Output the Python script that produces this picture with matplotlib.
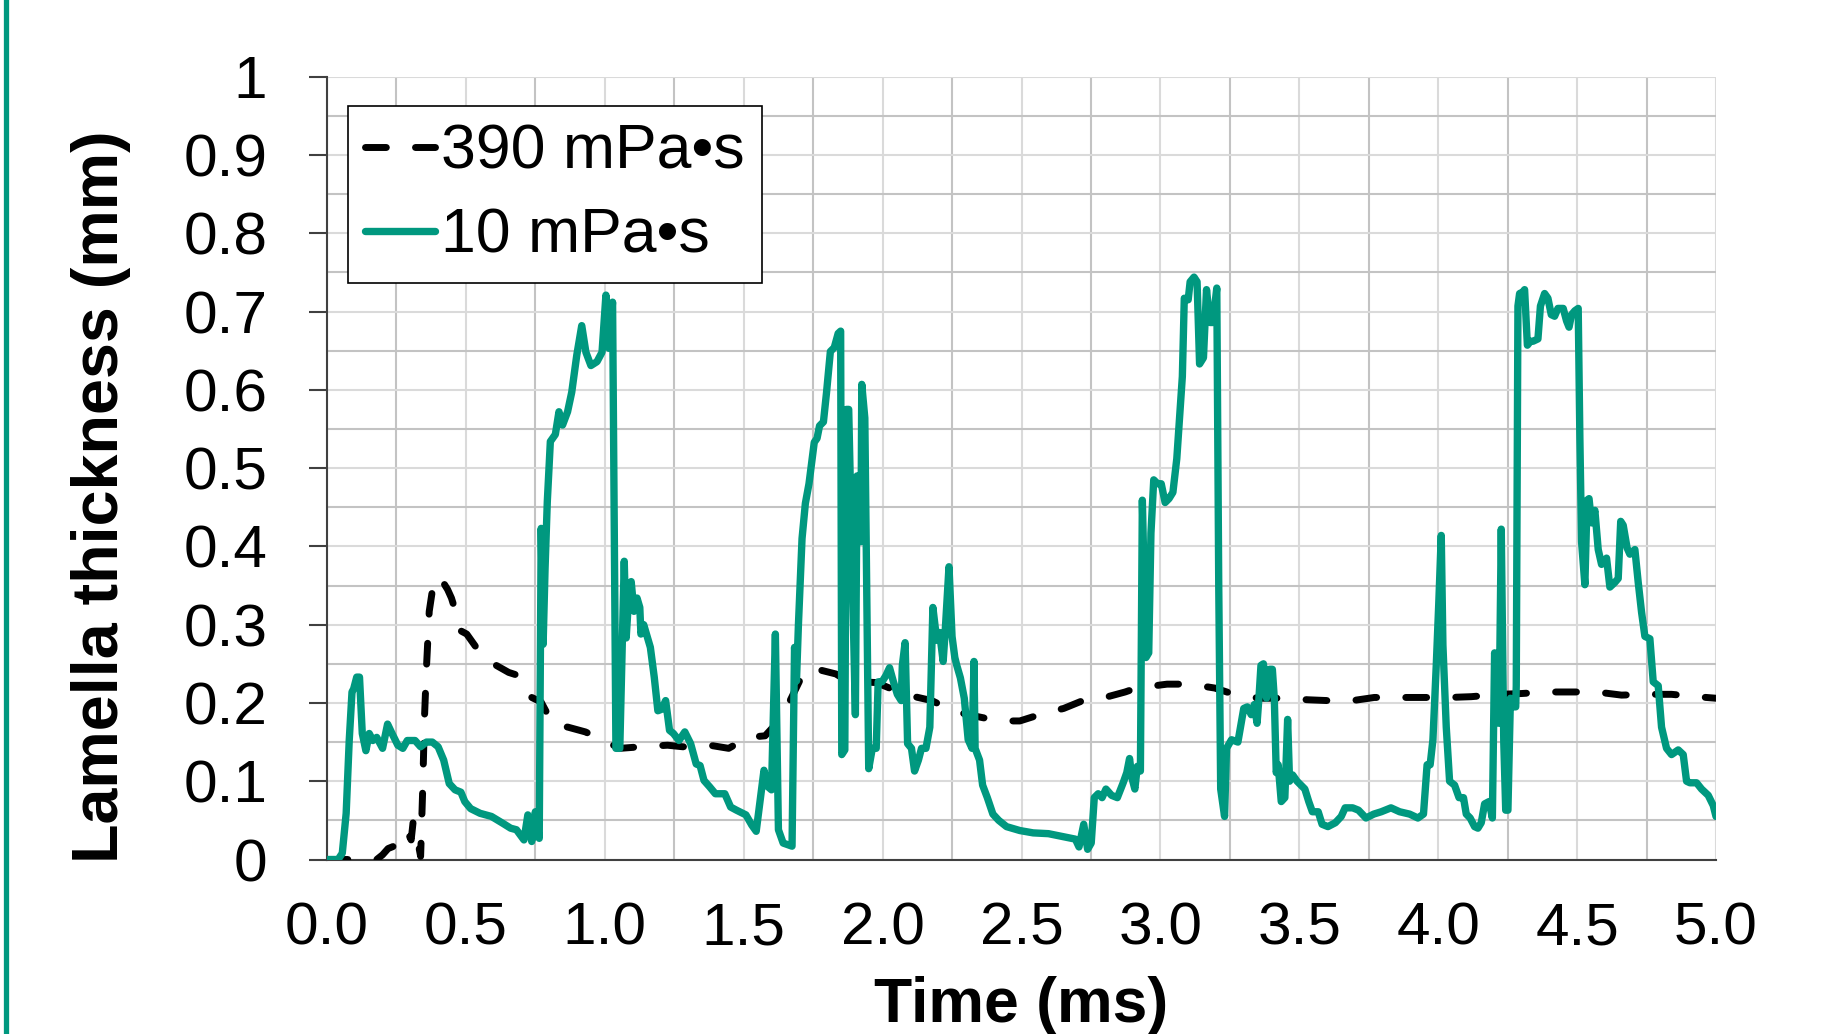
import matplotlib
matplotlib.use("Agg")
import matplotlib.pyplot as plt
from matplotlib.lines import Line2D
from matplotlib.ticker import MultipleLocator, FixedLocator

# ---------------- data ----------------
t_390 = [0.000, 0.179, 0.200, 0.220, 0.255, 0.275, 0.289, 0.303, 0.310, 0.320, 0.328, 0.337,
         0.344, 0.351, 0.358, 0.368, 0.379, 0.397, 0.413, 0.420, 0.434, 0.448, 0.461, 0.482,
         0.503, 0.551, 0.579, 0.599, 0.654, 0.689, 0.737, 0.771, 0.813, 0.868, 0.930, 0.985,
         1.054, 1.130, 1.226, 1.281, 1.377, 1.446, 1.515, 1.577, 1.639, 1.667, 1.708, 1.742,
         1.832, 1.873, 1.977, 2.032, 2.115, 2.177, 2.253, 2.308, 2.418, 2.494, 2.583, 2.652,
         2.721, 2.790, 2.873, 2.914, 3.024, 3.107, 3.196, 3.265, 3.355, 3.437, 3.534, 3.603,
         3.692, 3.770, 3.861, 3.951, 4.041, 4.119, 4.221, 4.299, 4.389, 4.480, 4.570, 4.660,
         4.750, 4.840, 4.930, 5.000]
h_390 = [0.000, 0.000, 0.006, 0.014, 0.019, 0.021, 0.036, 0.025, 0.048, 0.044, 0.021, 0.004,
         0.084, 0.182, 0.245, 0.317, 0.343, 0.351, 0.362, 0.353, 0.345, 0.334, 0.319, 0.292,
         0.288, 0.264, 0.258, 0.250, 0.239, 0.235, 0.207, 0.201, 0.173, 0.169, 0.163, 0.154,
         0.142, 0.144, 0.146, 0.144, 0.146, 0.142, 0.156, 0.158, 0.182, 0.203, 0.233, 0.245,
         0.237, 0.228, 0.226, 0.218, 0.208, 0.203, 0.190, 0.185, 0.177, 0.177, 0.187, 0.193,
         0.203, 0.206, 0.214, 0.219, 0.224, 0.224, 0.219, 0.211, 0.206, 0.206, 0.204, 0.203,
         0.203, 0.207, 0.207, 0.207, 0.207, 0.208, 0.211, 0.212, 0.214, 0.214, 0.214, 0.210,
         0.211, 0.211, 0.208, 0.206]

t_10 = [0.000, 0.040, 0.055, 0.069, 0.080, 0.090, 0.096, 0.107, 0.117, 0.127, 0.140, 0.152,
        0.165, 0.179, 0.200, 0.218, 0.234, 0.255, 0.273, 0.289, 0.317, 0.337, 0.358, 0.379,
        0.400, 0.420, 0.440, 0.461, 0.482, 0.496, 0.517, 0.551, 0.592, 0.634, 0.661, 0.682,
        0.709, 0.723, 0.737, 0.750, 0.764, 0.771, 0.778, 0.785, 0.793, 0.804, 0.822, 0.835,
        0.848, 0.866, 0.881, 0.899, 0.917, 0.932, 0.950, 0.972, 0.990, 1.004, 1.015, 1.028,
        1.040, 1.054, 1.070, 1.077, 1.085, 1.095, 1.105, 1.116, 1.126, 1.130, 1.140, 1.150,
        1.164, 1.178, 1.191, 1.205, 1.219, 1.233, 1.247, 1.267, 1.288, 1.309, 1.329, 1.343,
        1.357, 1.377, 1.398, 1.432, 1.453, 1.474, 1.508, 1.529, 1.545, 1.556, 1.573, 1.587,
        1.600, 1.614, 1.625, 1.642, 1.674, 1.683, 1.690, 1.697, 1.710, 1.722, 1.735, 1.754,
        1.764, 1.773, 1.787, 1.798, 1.812, 1.826, 1.840, 1.849, 1.853, 1.864, 1.870, 1.878,
        1.902, 1.908, 1.922, 1.925, 1.936, 1.950, 1.963, 1.977, 1.984, 1.998, 2.012, 2.025,
        2.039, 2.053, 2.067, 2.071, 2.081, 2.090, 2.104, 2.115, 2.129, 2.140, 2.156, 2.170,
        2.181, 2.195, 2.205, 2.218, 2.225, 2.239, 2.250, 2.260, 2.267, 2.280, 2.294, 2.308,
        2.322, 2.329, 2.333, 2.349, 2.360, 2.377, 2.397, 2.418, 2.446, 2.494, 2.542, 2.597,
        2.652, 2.694, 2.707, 2.724, 2.738, 2.751, 2.762, 2.776, 2.790, 2.804, 2.824, 2.845,
        2.866, 2.879, 2.889, 2.897, 2.908, 2.917, 2.928, 2.935, 2.948, 2.958, 2.966, 2.976,
        2.990, 3.003, 3.017, 3.031, 3.045, 3.059, 3.072, 3.079, 3.086, 3.100, 3.107, 3.121,
        3.132, 3.141, 3.155, 3.166, 3.178, 3.189, 3.203, 3.210, 3.217, 3.231, 3.238, 3.256,
        3.279, 3.300, 3.313, 3.327, 3.338, 3.348, 3.355, 3.362, 3.371, 3.382, 3.393, 3.403,
        3.410, 3.417, 3.424, 3.435, 3.448, 3.458, 3.465, 3.476, 3.492, 3.506, 3.520, 3.534,
        3.547, 3.568, 3.582, 3.603, 3.630, 3.651, 3.665, 3.692, 3.713, 3.740, 3.768, 3.795,
        3.830, 3.861, 3.897, 3.927, 3.947, 3.960, 3.971, 3.981, 3.993, 4.002, 4.011, 4.017,
        4.029, 4.041, 4.059, 4.075, 4.091, 4.101, 4.115, 4.131, 4.143, 4.155, 4.167, 4.183,
        4.195, 4.203, 4.219, 4.227, 4.236, 4.243, 4.251, 4.260, 4.269, 4.279, 4.281, 4.287,
        4.293, 4.305, 4.311, 4.321, 4.332, 4.341, 4.359, 4.368, 4.383, 4.395, 4.407, 4.419,
        4.431, 4.450, 4.462, 4.471, 4.480, 4.492, 4.504, 4.510, 4.516, 4.528, 4.536, 4.543,
        4.552, 4.564, 4.576, 4.588, 4.606, 4.618, 4.636, 4.648, 4.657, 4.666, 4.680, 4.690,
        4.708, 4.720, 4.732, 4.744, 4.762, 4.774, 4.792, 4.804, 4.822, 4.840, 4.864, 4.882,
        4.894, 4.906, 4.930, 4.948, 4.972, 4.990, 5.000]
h_10 = [0.000, 0.000, 0.008, 0.059, 0.152, 0.214, 0.218, 0.233, 0.233, 0.161, 0.139, 0.161,
        0.152, 0.156, 0.142, 0.173, 0.161, 0.146, 0.142, 0.152, 0.152, 0.144, 0.150, 0.150,
        0.144, 0.127, 0.097, 0.089, 0.086, 0.074, 0.065, 0.059, 0.055, 0.046, 0.040, 0.038,
        0.025, 0.057, 0.023, 0.061, 0.027, 0.423, 0.275, 0.372, 0.457, 0.534, 0.543, 0.572,
        0.555, 0.572, 0.597, 0.644, 0.682, 0.648, 0.631, 0.636, 0.648, 0.721, 0.653, 0.712,
        0.142, 0.142, 0.381, 0.283, 0.330, 0.355, 0.317, 0.334, 0.322, 0.288, 0.300, 0.288,
        0.271, 0.233, 0.190, 0.192, 0.203, 0.165, 0.161, 0.152, 0.163, 0.148, 0.122, 0.120,
        0.101, 0.093, 0.084, 0.084, 0.067, 0.063, 0.057, 0.044, 0.036, 0.067, 0.114, 0.093,
        0.089, 0.288, 0.038, 0.021, 0.017, 0.271, 0.228, 0.300, 0.410, 0.455, 0.480, 0.533,
        0.538, 0.554, 0.559, 0.596, 0.649, 0.654, 0.672, 0.675, 0.134, 0.140, 0.575, 0.575,
        0.185, 0.490, 0.406, 0.607, 0.564, 0.116, 0.142, 0.142, 0.227, 0.227, 0.235, 0.245,
        0.227, 0.211, 0.203, 0.248, 0.277, 0.148, 0.142, 0.113, 0.127, 0.142, 0.142, 0.169,
        0.322, 0.280, 0.290, 0.253, 0.290, 0.374, 0.285, 0.258, 0.248, 0.232, 0.206, 0.153,
        0.142, 0.253, 0.142, 0.127, 0.095, 0.079, 0.058, 0.050, 0.042, 0.037, 0.034, 0.033,
        0.029, 0.026, 0.016, 0.045, 0.013, 0.021, 0.079, 0.084, 0.079, 0.090, 0.082, 0.079,
        0.098, 0.111, 0.129, 0.105, 0.090, 0.119, 0.113, 0.459, 0.258, 0.264, 0.417, 0.485,
        0.480, 0.480, 0.456, 0.461, 0.469, 0.512, 0.580, 0.617, 0.717, 0.715, 0.738, 0.744,
        0.738, 0.633, 0.641, 0.728, 0.686, 0.686, 0.730, 0.350, 0.090, 0.055, 0.142, 0.153,
        0.150, 0.193, 0.195, 0.185, 0.198, 0.174, 0.208, 0.248, 0.250, 0.206, 0.243, 0.243,
        0.206, 0.111, 0.121, 0.074, 0.079, 0.179, 0.100, 0.108, 0.100, 0.095, 0.090, 0.074,
        0.061, 0.061, 0.045, 0.042, 0.047, 0.055, 0.066, 0.066, 0.063, 0.053, 0.058, 0.061,
        0.066, 0.061, 0.058, 0.053, 0.058, 0.121, 0.121, 0.153, 0.248, 0.327, 0.414, 0.274,
        0.169, 0.100, 0.095, 0.079, 0.079, 0.058, 0.053, 0.042, 0.040, 0.047, 0.071, 0.074,
        0.053, 0.264, 0.174, 0.422, 0.150, 0.063, 0.063, 0.206, 0.195, 0.195, 0.222, 0.707,
        0.723, 0.725, 0.728, 0.657, 0.662, 0.662, 0.665, 0.707, 0.723, 0.717, 0.696, 0.694,
        0.704, 0.704, 0.688, 0.680, 0.696, 0.701, 0.704, 0.538, 0.406, 0.351, 0.459, 0.461,
        0.430, 0.446, 0.396, 0.377, 0.385, 0.348, 0.354, 0.359, 0.432, 0.427, 0.398, 0.390,
        0.396, 0.354, 0.316, 0.285, 0.282, 0.227, 0.222, 0.169, 0.142, 0.134, 0.140, 0.134,
        0.100, 0.098, 0.098, 0.090, 0.082, 0.069, 0.055]

series_labels = ["390 mPa\u2022s", "10 mPa\u2022s"]
x_ticks = [0.0, 0.5, 1.0, 1.5, 2.0, 2.5, 3.0, 3.5, 4.0, 4.5, 5.0]
x_tick_labels = ["0.0", "0.5", "1.0", "1.5", "2.0", "2.5", "3.0", "3.5", "4.0", "4.5", "5.0"]
y_ticks = [0, 0.1, 0.2, 0.3, 0.4, 0.5, 0.6, 0.7, 0.8, 0.9, 1.0]
y_tick_labels = ["0", "0.1", "0.2", "0.3", "0.4", "0.5", "0.6", "0.7", "0.8", "0.9", "1"]
x_title = "Time (ms)"
y_title = "Lamella thickness (mm)"

TEAL = "#00987F"
plt.rcParams["font.family"] = ["Liberation Sans", "DejaVu Sans"]

W, H = 1821, 1034
fig = plt.figure(figsize=(W / 100, H / 100), dpi=100)
ax = fig.add_axes([327 / W, 1 - 859.5 / H, (1716 - 327) / W, (859.5 - 76.7) / H])

ax.set_xlim(0, 5)
ax.set_ylim(0, 1)

# grid: major light, minor darker
ax.xaxis.set_major_locator(FixedLocator(x_ticks))
ax.yaxis.set_major_locator(FixedLocator(y_ticks))
ax.xaxis.set_minor_locator(MultipleLocator(0.25))
ax.yaxis.set_minor_locator(MultipleLocator(0.05))
ax.grid(which="major", color="#dadada", linewidth=1.5, zorder=0)
ax.grid(which="minor", color="#c3c3c3", linewidth=1.5, zorder=0)
ax.set_axisbelow(True)

ax.set_xticklabels(x_tick_labels, fontsize=43.5)
ax.set_yticklabels(y_tick_labels, fontsize=43.5)
ax.tick_params(axis="x", which="major", length=0, pad=30)
ax.tick_params(axis="y", which="major", length=13, width=1.5, color="#404040", pad=30, direction="out")
ax.tick_params(which="minor", length=0)

for s in ["top", "right"]:
    ax.spines[s].set_visible(False)
for s in ["left", "bottom"]:
    ax.spines[s].set_color("#404040")
    ax.spines[s].set_linewidth(1.5)
    ax.spines[s].set_zorder(1.5)

ax.plot(t_390, h_390, color="black", linewidth=5.0, linestyle=(0, (3.0, 4.2)),
        dash_capstyle="round", dash_joinstyle="round", label=series_labels[0], zorder=2)
ax.plot(t_10, h_10, color=TEAL, linewidth=5.3, solid_capstyle="round",
        solid_joinstyle="round", label=series_labels[1], zorder=3)

leg = ax.legend(loc="upper left", bbox_to_anchor=((348 - 327) / 1389, (859.5 - 106) / 782.8),
                borderaxespad=0, fontsize=45, handlelength=1.12, handletextpad=0.1,
                borderpad=0.27, labelspacing=0.4, fancybox=False, framealpha=1,
                edgecolor="black")
leg.get_frame().set_linewidth(1.2)

fig.text(1021.5 / W, 1 - 1022 / H, x_title, ha="center", va="baseline",
         fontsize=45, fontweight="bold")
fig.text(118 / W, 1 - 496.5 / H, y_title, ha="center", va="baseline", rotation=90,
         rotation_mode="anchor", fontsize=46.5, fontweight="bold")

# teal frame line on the left edge
fig.add_artist(Line2D([5.5 / W, 5.5 / W], [0, 1], color=TEAL, linewidth=3.8,
                      transform=fig.transFigure))

fig.savefig("out.png", dpi=100)
